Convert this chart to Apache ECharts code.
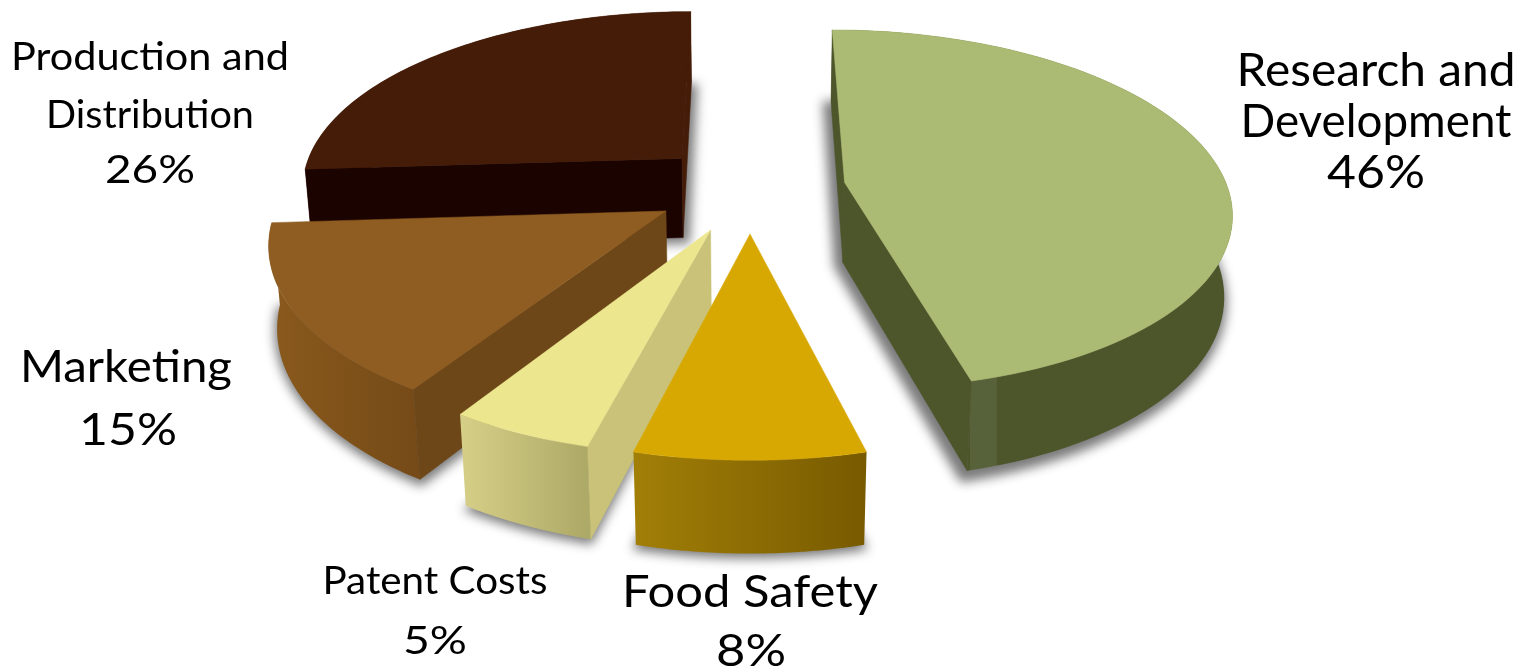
<!DOCTYPE html>
<html>
<head>
<meta charset="utf-8">
<title>Budget shares</title>
<style>
  html, body { margin: 0; padding: 0; background: #fff; }
  #chart { width: 1528px; height: 669px; }
</style>
<script src="https://cdn.jsdelivr.net/npm/echarts@6/dist/echarts.min.js"></script>
</head>
<body>
<div id="chart"></div>
<script>
// Budget shares, clockwise from 12 o'clock
const categories = [
  ['Research and', 'Development'],
  ['Food Safety'],
  ['Patent Costs'],
  ['Marketing'],
  ['Production and', 'Distribution']
];
const shares = [46, 8, 5, 15, 26];

// Surface colours per slice
const topColors = ['#abbb73', '#d8a802', '#ece68f', '#8f5d21', '#451c08'];
const leadingWallColors = ['#4d552b', '#8c6d04', '#c9c278', '#6e4718', '#1b0300'];
const trailingWallColors = ['#4d552b', '#8c6d04', '#c9c278', '#6e4718', '#451c08'];
const rimStops = [
  [[0, '#4d552b'], [0.346, '#4d552b'], [0.347, '#58623a'], [0.412, '#58623a'], [0.413, '#4d552b'], [1, '#4d552b']],
  [[0, '#a27f07'], [1, '#785a00']],
  [[0, '#d6cf88'], [1, '#aca865']],
  [[0, '#8a5a1d'], [1, '#754a17']],
  [[0, '#451c08'], [1, '#451c08']]
];

// Label placement: line centre x, line centre y, font size, drawn width
const labelLayout = [
  [[1376, 71, 46, 279], [1376, 122, 46, 271], [1376, 173, 46, 98]],
  [[750, 593, 44, 256], [751, 652, 44, 70]],
  [[435, 582, 38, 225], [435, 642, 38, 64]],
  [[126, 368, 44, 212], [128, 431, 44, 98]],
  [[150, 57, 39, 278], [150, 115, 39, 208], [150, 170, 39, 90]]
];

// Camera model for the tilted, exploded pie
const scene = {
  cx: 750, cy: 188, rx: 383, ry: 177,
  perspective: 0.15, explode: 0.25,
  floorDepth: 0.017, floorDrop: 82
};

// Contact shadow: spread of the floor outline and how far its caster sits off the page
const shadowSpread = { apexShift: 0.025, radius: 1.03, drop: 3, blur: 11, away: 4000 };

function project(u, v, onFloor, extraDrop) {
  const w = 1 - scene.perspective * v + (onFloor ? scene.floorDepth : 0);
  const drop = onFloor ? scene.floorDrop + (extraDrop || 0) : 0;
  return [scene.cx + scene.rx * u / w, scene.cy + (scene.ry * v + drop) / w];
}

const total = shares.reduce((a, b) => a + b, 0);
const unit = a => [Math.sin(a), -Math.cos(a)];

let running = 0;
const slices = shares.map((value, index) => {
  const start = running / total * 2 * Math.PI;
  running += value;
  const end = running / total * 2 * Math.PI;
  const mid = unit((start + end) / 2);
  return {
    index, value, start, end, mid,
    apex: [mid[0] * scene.explode, mid[1] * scene.explode]
  };
});

// Farther slices are painted first
const paintOrder = slices.slice().sort((a, b) => a.apex[1] - b.apex[1]);

function arcPoints(apex, s, radius) {
  const pts = [];
  const steps = 90;
  for (let i = 0; i <= steps; i++) {
    const d = unit(s.start + (s.end - s.start) * i / steps);
    pts.push([apex[0] + d[0] * radius, apex[1] + d[1] * radius]);
  }
  return pts;
}

function polygon(points, style) {
  return { type: 'polygon', shape: { points }, style, silent: true };
}

function signedArea(points) {
  let sum = 0;
  points.forEach((p, i) => {
    const q = points[(i + 1) % points.length];
    sum += p[0] * q[1] - q[0] * p[1];
  });
  return sum / 2;
}

// Quad of a flat cut face, apex first
function wallQuad(a, b) {
  return [
    project(a[0], a[1], false), project(b[0], b[1], false),
    project(b[0], b[1], true), project(a[0], a[1], true)
  ];
}

const measure = document.createElement('canvas').getContext('2d');

function labelItems(s) {
  const lines = categories[s.index].concat([s.value + '%']);
  return lines.map((text, i) => {
    const [x, y, size, width] = labelLayout[s.index][i];
    const font = size + 'px Lato, "Open Sans", sans-serif';
    measure.font = font;
    return {
      type: 'text', x, y, silent: true,
      scaleX: width / measure.measureText(text).width,
      style: { text, font, fill: '#000', align: 'center', verticalAlign: 'middle' }
    };
  });
}

function renderSlice(params, api) {
  const s = slices[api.value(0)];
  const rim = arcPoints(s.apex, s, 1);
  const first = rim[0];
  const last = rim[rim.length - 1];
  const children = [];

  // The caster sits off the page, so only its blurred shadow lands on it
  const shadowApex = [
    s.apex[0] - s.mid[0] * shadowSpread.apexShift,
    s.apex[1] - s.mid[1] * shadowSpread.apexShift
  ];
  const shadowOutline = [shadowApex].concat(arcPoints(shadowApex, s, shadowSpread.radius))
    .map(p => {
      const q = project(p[0], p[1], true, shadowSpread.drop);
      return [q[0] - shadowSpread.away, q[1]];
    });
  children.push(polygon(shadowOutline, {
    fill: '#000',
    shadowBlur: shadowSpread.blur,
    shadowColor: 'rgba(70,70,70,0.72)',
    shadowOffsetX: shadowSpread.away
  }));

  const rimOutline = rim.map(p => project(p[0], p[1], false))
    .concat(rim.slice().reverse().map(p => project(p[0], p[1], true)));
  const stops = rimStops[s.index].map(c => ({ offset: c[0], color: c[1] }));
  children.push(polygon(rimOutline, {
    fill: new echarts.graphic.LinearGradient(0, 0, 1, 0, stops)
  }));

  // Cut faces turned toward the viewer sit in front of the rim
  const leading = wallQuad(s.apex, first);
  if (signedArea(leading) < 0) {
    const fill = leadingWallColors[s.index];
    children.push(polygon(leading, { fill, stroke: fill, lineWidth: 0.5 }));
  }
  const trailing = wallQuad(s.apex, last);
  if (signedArea(trailing) > 0) {
    const fill = trailingWallColors[s.index];
    children.push(polygon(trailing, { fill, stroke: fill, lineWidth: 0.5 }));
  }

  children.push(polygon([project(s.apex[0], s.apex[1], false)]
    .concat(rim.map(p => project(p[0], p[1], false))), {
    fill: topColors[s.index],
    stroke: topColors[s.index],
    lineWidth: 0.5
  }));

  return { type: 'group', children: children.concat(labelItems(s)) };
}

const chart = echarts.init(document.getElementById('chart'));
chart.setOption({
  backgroundColor: '#ffffff',
  animation: false,
  series: [{
    type: 'custom',
    coordinateSystem: 'none',
    silent: true,
    clip: false,
    renderItem: renderSlice,
    data: paintOrder.map(s => [s.index, s.value])
  }]
});
</script>
</body>
</html>
